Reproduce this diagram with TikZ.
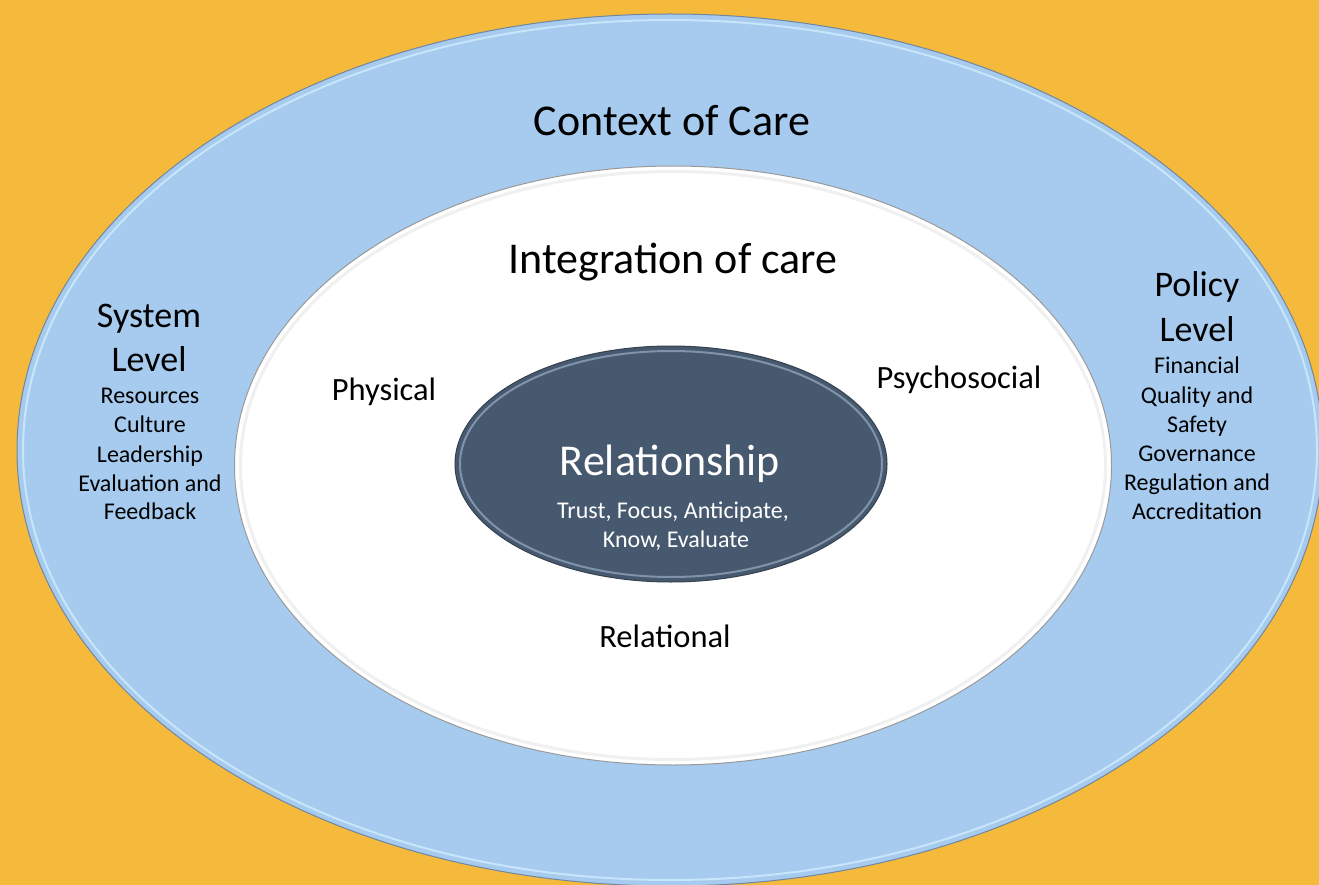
\documentclass[tikz,border=0pt]{standalone}
\usepackage{fontspec}
\setmainfont{Carlito}
\usetikzlibrary{shapes.geometric}
\definecolor{bgorange}{HTML}{F5B93C}
\definecolor{ringblue}{HTML}{A6CBEF}
\definecolor{rimblue}{HTML}{C8E6FB}
\definecolor{edgeblue}{HTML}{6F86A0}
\definecolor{coreslate}{HTML}{47596F}
\definecolor{corerim}{HTML}{8193A8}
\definecolor{coreedge}{HTML}{34414F}
\begin{document}
\begin{tikzpicture}[x=1pt,y=-1pt,
  lbl/.style={anchor=base, inner sep=0pt, text=black},
  bigtxt/.style={font=\fontsize{44}{53}\selectfont},
  midtxt/.style={font=\fontsize{36}{43}\selectfont},
  ringtxt/.style={font=\fontsize{32.5}{39}\selectfont},
  smalltxt/.style={font=\fontsize{24}{29}\selectfont},
  oval/.style={ellipse, inner sep=0pt}]
\useasboundingbox (0,0) rectangle (1319,885);
\clip (0,0) rectangle (1319,885);
\fill[bgorange] (0,0) rectangle (1319,885);
% outer ring
\node[oval, minimum width=1306pt, minimum height=872pt, fill=ringblue, draw=edgeblue, line width=1pt] (outer) at (670,450) {};
\node[oval, minimum width=1294pt, minimum height=860pt, draw=rimblue, line width=2pt] (outerrim) at (670,450) {};
% inner white
\node[oval, minimum width=877pt, minimum height=599pt, fill=white, draw=black!40, line width=1pt] (inner) at (673,465.5) {};
\node[oval, minimum width=865pt, minimum height=588pt, draw=black!6, line width=3pt] (innerrim) at (673,465.5) {};
% core
\node[oval, minimum width=432pt, minimum height=236pt, fill=coreslate, draw=coreedge, line width=1pt] (core) at (671,464) {};
\node[oval, minimum width=422pt, minimum height=226pt, draw=corerim, line width=2pt] (corerimline) at (671,464) {};
% titles
\node[lbl, bigtxt] (context) at (672,136) {Context of Care};
\node[lbl, bigtxt] (integ) at (673,273) {Integration of care};
% system level
\node[lbl, midtxt] (sys1) at (149,327) {System};
\node[lbl, midtxt] (sys2) at (149,371) {Level};
\foreach \t/\y [count=\i] in {Resources/403, Culture/432, Leadership/462, Evaluation and/491, Feedback/519}
  \node[lbl, smalltxt] (sysitem\i) at (150,\y) {\t};
% policy level
\node[lbl, midtxt] (pol1) at (1197,296) {Policy};
\node[lbl, midtxt] (pol2) at (1197,341) {Level};
\foreach \t/\y [count=\i] in {Financial/373, Quality and/403, Safety/432, Governance/461, Regulation and/490, Accreditation/519}
  \node[lbl, smalltxt] (politem\i) at (1197,\y) {\t};
% integration aspects
\node[lbl, ringtxt] (phys) at (384,400) {Physical};
\node[lbl, ringtxt] (psych) at (959,388) {Psychosocial};
\node[lbl, ringtxt] (relal) at (665,647) {Relational};
% core text
\node[lbl, bigtxt, text=white] (rel) at (670,475) {Relationship};
\node[lbl, smalltxt, text=white] (relitem1) at (673,518) {Trust, Focus, Anticipate,};
\node[lbl, smalltxt, text=white] (relitem2) at (676,547) {Know, Evaluate};
\end{tikzpicture}
\end{document}
